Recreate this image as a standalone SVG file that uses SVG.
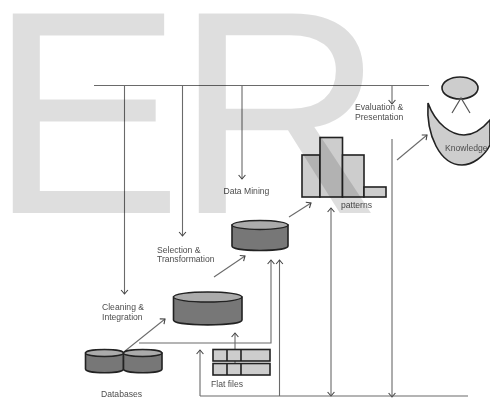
<svg xmlns="http://www.w3.org/2000/svg" width="490" height="399" viewBox="0 0 490 399">
<style>
text{font-family:"Liberation Sans",Arial,sans-serif;font-size:8.6px;fill:#4d4d4d}
.c{fill:none;stroke:#6a6a6a;stroke-width:1.1}
.a{marker-end:url(#ah)}
.s{marker-start:url(#ah)}
.b{fill:#777;stroke:#222;stroke-width:1.6}
.t{fill:#ababab;stroke:#222;stroke-width:1.3}
.p{fill:#cdcdcd;stroke:#222;stroke-width:1.6}
.wm{font-size:290px;fill:#000;fill-opacity:.13}
</style>
<defs>
<marker id="ah" markerUnits="userSpaceOnUse" markerWidth="10" markerHeight="10" refX="6" refY="5" orient="auto-start-reverse">
<path d="M2 1.6 L6 5 L2 8.400" fill="none" stroke="#444" stroke-width="1.1"/>
</marker>
<filter id="soft" x="-5%" y="-5%" width="110%" height="110%"><feGaussianBlur stdDeviation="0.35"/></filter>
</defs>
<rect width="490" height="399" fill="#fff"/>
<g filter="url(#soft)">
<g id="connectors">
<path class="c" d="M94 85.500H429"/>
<path class="c a" d="M124.500 85.500V294"/>
<path class="c a" d="M182.500 85.500V236"/>
<path class="c a" d="M242 85.500V179"/>
<path class="c a" d="M392 85.500V104"/>
<path class="c a" d="M392 139V397"/>
<path class="c a s" d="M331 396V208"/>
<path class="c" d="M200 396H468"/>
<path class="c a" d="M200 396V350"/>
<path class="c a" d="M279.500 396V260"/>
<path class="c a" d="M139 343H271V260"/>
<path class="c a" d="M235 363V333"/>
<path class="c a" d="M125 351L165 319"/>
<path class="c a" d="M214 277L245 256"/>
<path class="c a" d="M289 217L311 203"/>
<path class="c a" d="M397 160L427 135"/>
</g>
<g id="db-left"><path class="b" d="M85.500 353V369C85.500 374 123.500 374 123.500 369V353Z"/><ellipse class="t" cx="104.500" cy="353" rx="19" ry="3.500"/></g>
<g id="db-right"><path class="b" d="M123.500 353V369C123.500 374 162 374 162 369V353Z"/><ellipse class="t" cx="142.700" cy="353" rx="19.200" ry="3.500"/></g>
<g id="selection-store"><path class="b" d="M173.500 297V320C173.500 326.500 242 326.500 242 320V297Z"/><ellipse class="t" cx="207.700" cy="297" rx="34.200" ry="5"/></g>
<g id="mining-store"><path class="b" d="M232 225V246C232 252 288 252 288 246V225Z"/><ellipse class="t" cx="260" cy="225" rx="28" ry="4.500"/></g>
<g id="flat-files">
<rect class="p" x="213" y="349.500" width="57" height="11.500"/><path class="p" d="M227 349.500V361M241 349.500V361"/>
<rect class="p" x="213" y="363.500" width="57" height="11.500"/><path class="p" d="M227 363.500V375M241 363.500V375"/>
<text x="211" y="387">Flat files</text>
</g>
<g id="patterns">
<rect class="p" x="302" y="155" width="18" height="42"/>
<rect class="p" x="320" y="137.500" width="22.500" height="59.500"/>
<rect class="p" x="342.500" y="155" width="21.500" height="42"/>
<rect class="p" x="364" y="187" width="22" height="10"/>
<text x="341" y="208">patterns</text>
</g>
<g id="knowledge">
<ellipse class="p" cx="460" cy="88" rx="18" ry="11"/>
<path fill="none" stroke="#555" stroke-width="1.2" d="M452 113L461 98L470 113"/>
<path class="p" d="M428 103C436 125 452 135 464 135C474 135 484 127 490 120V145C484 157 472 165 462 165C440 165 426 135 428 103Z"/>
<text x="445" y="151">Knowledge</text>
</g>
<g id="labels">
<text x="223.500" y="194">Data Mining</text>
<text x="355" y="110">Evaluation &amp;</text>
<text x="355" y="119.500">Presentation</text>
<text x="157" y="253">Selection &amp;</text>
<text x="157" y="262">Transformation</text>
<text x="102" y="310">Cleaning &amp;</text>
<text x="102" y="319.500">Integration</text>
<text x="101" y="397">Databases</text>
</g>
</g>
<text class="wm" x="-11 175" y="213">ER</text>
</svg>
